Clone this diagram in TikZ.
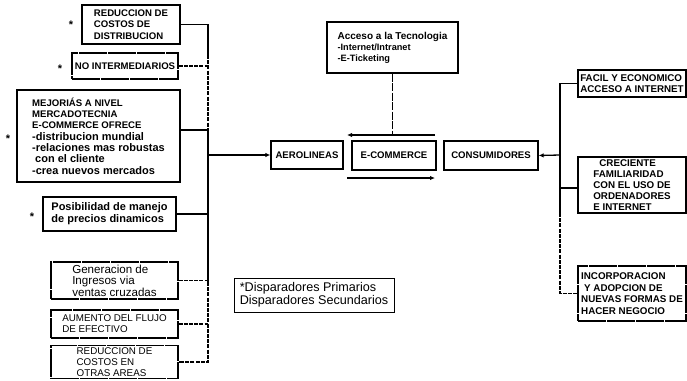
\documentclass[tikz,border=0pt]{standalone}
\usepackage{fontspec}
\setmainfont{Liberation Sans}
\usetikzlibrary{arrows.meta}
% font helpers for the box texts
\newcommand\capsbold{\fontsize{9.6}{11.3}\selectfont\bfseries}
\newcommand\lowbold{\fontsize{11}{11.7}\selectfont\bfseries}
\begin{document}
\begin{tikzpicture}[x=1pt,y=-1pt,
  box/.style={draw, line width=1.3pt, align=left, inner sep=0pt},
  secbox/.style={box, dash pattern=on 28pt off 1pt},
  link/.style={line width=1.3pt},
  seclink/.style={line width=1.2pt, dash pattern=on 4pt off 1.2pt},
  arr/.style={link, -{Latex[length=5pt,width=4.5pt]}},
  star/.style={font=\fontsize{11}{11}\selectfont\bfseries, inner sep=0pt}
]
\useasboundingbox (0,0) rectangle (687,380);

% ---- left column: triggers on the airline side
\node[box, font=\capsbold, minimum width=98pt, minimum height=39pt] (redDist) at (131,24.5)
  {REDUCCION DE\\COSTOS DE\\DISTRIBUCION};
\node[star] (s1) at (71,25) {*};
\node[secbox, font=\capsbold, minimum width=106pt, minimum height=26pt] (noInt) at (125,66)
  {NO INTERMEDIARIOS};
\node[star] (s2) at (60,69) {*};
\node[box, font=\capsbold, minimum width=163pt, minimum height=92pt] (mejoras) at (98.5,136)
  {MEJORIÁS A NIVEL\\MERCADOTECNIA\\E-COMMERCE OFRECE\\\lowbold -distribucion mundial\\\lowbold -relaciones mas robustas\\\lowbold\hspace{3pt}con el cliente\\\lowbold -crea nuevos mercados};
\node[star] (s3) at (8,139) {*};
\node[box, font=\lowbold, minimum width=133pt, minimum height=34pt] (precios) at (109.5,214)
  {Posibilidad de manejo\\de precios dinamicos};
\node[star] (s4) at (32,217) {*};
\node[secbox, font=\fontsize{11.6}{11.6}\selectfont, minimum width=127pt, minimum height=37pt] (ingresos) at (114.5,280.5)
  {Generacion de\\Ingresos via\\ventas cruzadas};
\node[secbox, font=\fontsize{9.8}{11}\selectfont, minimum width=127pt, minimum height=28pt] (flujo) at (114.5,324)
  {AUMENTO DEL FLUJO\\DE EFECTIVO};
\node[secbox, font=\fontsize{9.8}{11}\selectfont, minimum width=127pt, minimum height=33pt] (redOtras) at (114.5,362)
  {REDUCCION DE\\COSTOS EN\\OTRAS AREAS};

% ---- centre row
\node[box, font=\capsbold, minimum width=72pt, minimum height=28pt] (aero) at (307,155) {AEROLINEAS};
\node[box, font=\capsbold, minimum width=84pt, minimum height=29pt] (ecom) at (394,155.5) {E-COMMERCE};
\node[box, font=\capsbold, minimum width=94pt, minimum height=29pt] (cons) at (491,155.5) {CONSUMIDORES};
\node[box, font=\fontsize{10}{11}\selectfont\bfseries, minimum width=131pt, minimum height=51pt] (acceso) at (392.5,47.5)
  {Acceso a la Tecnologia\\\fontsize{9.2}{11}\selectfont -Internet/Intranet\\\fontsize{9.2}{11}\selectfont -E-Ticketing};

% ---- right column: triggers on the consumer side
\node[box, font=\fontsize{9.8}{10.5}\selectfont\bfseries, minimum width=108pt, minimum height=27pt] (facil) at (632,83.5)
  {FACIL Y ECONOMICO\\ACCESO A INTERNET};
\node[box, font=\fontsize{9.8}{11}\selectfont\bfseries, minimum width=108pt, minimum height=56pt] (creciente) at (632,185)
  {\hspace{6pt}CRECIENTE\\FAMILIARIDAD\\CON EL USO DE\\ORDENADORES\\E INTERNET};
\node[secbox, font=\fontsize{9.8}{11.7}\selectfont\bfseries, minimum width=108pt, minimum height=55pt] (incorp) at (632,293.5)
  {INCORPORACION\\\hspace{3pt}Y ADOPCION DE\\NUEVAS FORMAS DE\\HACER NEGOCIO};

% ---- legend
\node[draw, line width=0.8pt, align=left, inner sep=0pt, font=\fontsize{12.6}{13}\selectfont,
      minimum width=160pt, minimum height=34pt] (legend) at (314,295)
  {*Disparadores Primarios\\Disparadores Secundarios};

% ---- left bus
\coordinate (lbus) at (208,155);
\coordinate (lbA) at (208,55);
\coordinate (lbB) at (208,282);
\draw[link] (redDist.east) -- (redDist.east -| lbus) -- (lbA);
\draw[seclink] (lbA) -- ([yshift=6pt]mejoras.east -| lbus);
\draw[link] ([yshift=6pt]mejoras.east) -- ([yshift=6pt]mejoras.east -| lbus) -- (lbB);
\draw[seclink] (noInt.east) -- (noInt.east -| lbus);
\draw[link] (precios.east) -- (precios.east -| lbus);
\draw[seclink] (lbB) -- (redOtras.east -| lbus) -- (redOtras.east);
\draw[seclink] (ingresos.east) -- (ingresos.east -| lbus);
\draw[seclink] (flujo.east) -- (flujo.east -| lbus);
\draw[arr] (lbus) -- (aero.west);

% ---- arrows around E-COMMERCE
\coordinate (tR) at (435,135);
\coordinate (tL) at (347,135);
\coordinate (bL) at (347,178);
\coordinate (bR) at (435,178);
\draw[arr] (tR) -- (tL);
\draw[arr] (bL) -- (bR);
\draw[line width=1.1pt, dash pattern=on 8pt off 1.5pt] (acceso.south) -- (acceso.south |- tR);

% ---- right bus
\coordinate (rbus) at (560,155);
\coordinate (rmid) at (560,213);
\draw[link] (facil.west) -- (facil.west -| rbus) -- (rmid);
\draw[seclink] (rmid) -- (incorp.west -| rbus) -- (incorp.west);
\draw[link] ([yshift=-3pt]creciente.west) -- ([yshift=-3pt]creciente.west -| rbus);
\draw[arr] (rbus) -- (cons.east);
\end{tikzpicture}
\end{document}
